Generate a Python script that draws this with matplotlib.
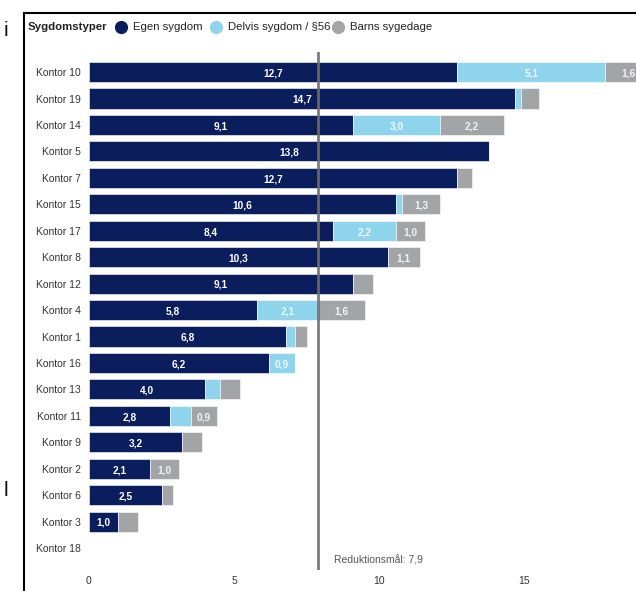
import numpy as np
import matplotlib
matplotlib.use('Agg')
import matplotlib.pyplot as plt
from matplotlib.lines import Line2D

# data
kontorer = ['Kontor 10', 'Kontor 19', 'Kontor 14', 'Kontor 5', 'Kontor 7', 'Kontor 15',
            'Kontor 17', 'Kontor 8', 'Kontor 12', 'Kontor 4', 'Kontor 1', 'Kontor 16',
            'Kontor 13', 'Kontor 11', 'Kontor 9', 'Kontor 2', 'Kontor 6', 'Kontor 3', 'Kontor 18']
egen = [12.7, 14.7, 9.1, 13.8, 12.7, 10.6, 8.4, 10.3, 9.1, 5.8, 6.8, 6.2, 4.0, 2.8, 3.2, 2.1, 2.5, 1.0, 0]
delvis = [5.1, 0.2, 3.0, 0, 0, 0.2, 2.2, 0, 0, 2.1, 0.3, 0.9, 0.5, 0.7, 0, 0, 0, 0, 0]
barns = [1.6, 0.6, 2.2, 0, 0.5, 1.3, 1.0, 1.1, 0.7, 1.6, 0.4, 0, 0.7, 0.9, 0.7, 1.0, 0.4, 0.7, 0]
maal = 7.9

c_egen = '#0a1d5c'
c_delvis = '#8dd4ec'
c_barns = '#a2a5a7'

plt.rcParams['font.family'] = ['Liberation Sans', 'DejaVu Sans']

fig = plt.figure(figsize=(6.36, 5.91), dpi=100)
ax = fig.add_axes([89/636, 1-570/591, 547/636, 518/591])

y = np.arange(len(kontorer))
egen = np.array(egen); delvis = np.array(delvis); barns = np.array(barns)
h = 0.76
ax.barh(y, egen, height=h, color=c_egen, edgecolor='white', linewidth=0.4)
ax.barh(y, delvis, left=egen, height=h, color=c_delvis, edgecolor='white', linewidth=0.4)
ax.barh(y, barns, left=egen + delvis, height=h, color=c_barns, edgecolor='white', linewidth=0.4)

def lbl(v, left, col):
    for i in range(len(v)):
        if v[i] >= 0.8:
            ax.text(left[i] + v[i]/2, y[i] + 0.05, f'{v[i]:.1f}'.replace('.', ','),
                    ha='center', va='center', color=col, fontsize=7.3,
                    fontweight='bold', clip_on=True)

lbl(egen, np.zeros(len(egen)), 'white')
lbl(delvis, egen, '#eef8fc')
lbl(barns, egen + delvis, '#f2f2f2')

ax.axvline(maal, color='#6e6e6e', lw=2, alpha=0.9)
ax.text(maal + 0.55, 18.45, 'Reduktionsmål: 7,9', fontsize=7.5, color='#555555', va='center')

ax.set_xlim(0, 18.86)
ax.set_ylim(18.83, -0.76)
ax.set_yticks(y)
ax.set_yticklabels(kontorer, fontsize=7.5, color='#333333')
ax.set_xticks([0, 5, 10, 15])
ax.set_xticklabels(['0', '5', '10', '15'], fontsize=7.5, color='#333333')
ax.tick_params(length=0, pad=6)
ax.tick_params(axis='x', pad=4)
for s in ax.spines.values():
    s.set_visible(False)

# legend on top
fig.text(28/636, 1-27/591, 'Sygdomstyper', fontsize=8.2, fontweight='bold', va='center', color='#222222')
for xc, col, txt in [(121, c_egen, 'Egen sygdom'), (216, c_delvis, 'Delvis sygdom / §56'),
                     (338, c_barns, 'Barns sygedage')]:
    fig.add_artist(Line2D([xc/636], [1-27/591], marker='o', markersize=8.5, color=col, lw=0))
    fig.text((xc + 12)/636, 1-27/591, txt, fontsize=8.2, va='center', color='#222222')

# frame of the surrounding page
fig.add_artist(Line2D([24/636, 24/636], [0, 1-13/591], color='black', lw=1.5))
fig.add_artist(Line2D([24/636, 1], [1-13/591, 1-13/591], color='black', lw=1.5))
fig.text(4/636, 1-30/591, 'i', fontsize=15, va='center', color='#111111')
fig.text(4/636, 1-490/591, 'l', fontsize=15, va='center', color='#111111')

fig.savefig('out.png', dpi=100)
